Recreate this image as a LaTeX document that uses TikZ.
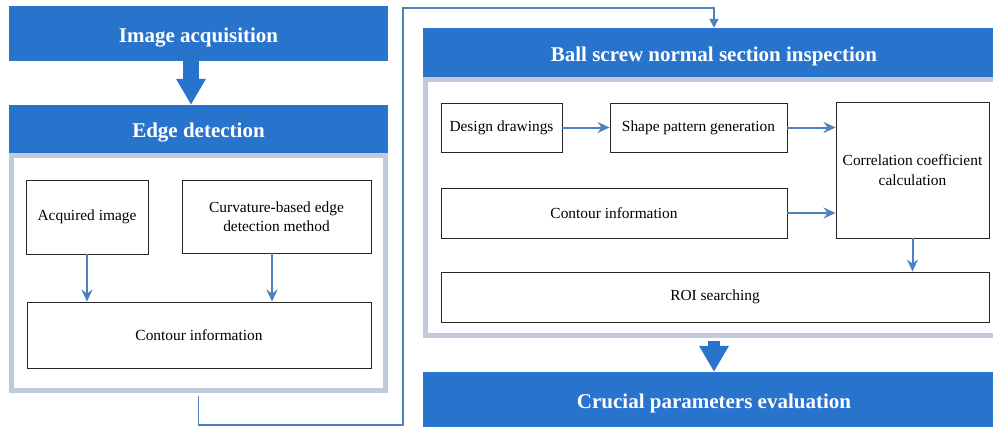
\documentclass[tikz,border=0pt]{standalone}
\usepackage{fontspec}
\setmainfont{Liberation Serif}
\usetikzlibrary{arrows.meta}
\definecolor{barblue}{HTML}{2874CC}
\definecolor{panelgray}{HTML}{BFCADB}
\definecolor{linkblue}{HTML}{4F81BD}
\begin{document}
\begin{tikzpicture}[x=1pt,y=-1pt,
  bar/.style={fill=barblue, draw=none, text=white, font=\bfseries\fontsize{21}{24}\selectfont, inner sep=0pt, text height=17pt, text depth=0pt},
  panel/.style={draw=panelgray, line width=5pt, fill=white, inner sep=0pt},
  box/.style={draw=black!85, line width=0.9pt, fill=white, font=\fontsize{15.4}{19.5}\selectfont, align=center, inner sep=2pt},
  flow/.style={draw=linkblue, line width=2pt, -{Stealth[length=12pt,width=11pt,inset=4pt]}},
  bigarrow/.style={draw=barblue, line width=#1, -{Triangle[length=26pt,width=28pt]}},
  link/.style={draw=linkblue, line width=1.6pt, -{Triangle[length=9pt,width=9pt]}}]
\useasboundingbox (0,0) rectangle (993,426);
\clip (0,0) rectangle (993,426);
\fill[white] (0,0) rectangle (993,426);

% left column
\node[bar, minimum width=379pt, minimum height=55pt] (bar1) at (198.5,33.5) {Image acquisition};
\node[bar, minimum width=379pt, minimum height=48pt] (bar2) at (198.5,129) {Edge detection};
\node[panel, minimum width=374pt, minimum height=235pt] (pL) at (198.5,273) {};
\node[box, minimum width=122pt, minimum height=74pt] (ai) at (87,217) {Acquired image};
\node[box, minimum width=189pt, minimum height=73pt] (cu) at (276.5,216.5) {Curvature-based edge\\detection method};
\node[box, minimum width=344pt, minimum height=66pt] (ci1) at (199,335) {Contour information};

% right column
\node[panel, minimum width=577pt, minimum height=256pt] (pR) at (714,207.5) {};
\node[bar, minimum width=582pt, minimum height=49pt] (bar3) at (714,52.5) {Ball screw normal section inspection};
\node[bar, minimum width=582pt, minimum height=56pt] (bar4) at (714,400) {Crucial parameters evaluation};
\node[box, minimum width=121pt, minimum height=49pt] (dd) at (501.5,127.5) {Design drawings};
\node[box, minimum width=177pt, minimum height=49pt] (sp) at (698.5,127.5) {Shape pattern generation};
\node[box, minimum width=153pt, minimum height=136pt] (cc) at (912.5,170) {Correlation coefficient\\calculation};
\node[box, minimum width=346pt, minimum height=50pt] (ci2) at (614,213) {Contour information};
\node[box, minimum width=548pt, minimum height=50pt] (roi) at (715,297) {ROI searching};

% big arrows
\coordinate (a1) at ([xshift=-7.5pt]bar1.south);
\draw[bigarrow=16pt] (a1) -- (a1 |- bar2.north);
\coordinate (a2) at ([yshift=-2.5pt]pR.south);
\draw[bigarrow=12pt] (a2) -- (a2 |- bar4.north);

% flow arrows left
\draw[flow] (ai.south) -- (ai.south |- ci1.north);
\coordinate (cuo) at ([xshift=-4.5pt]cu.south);
\draw[flow] (cuo) -- (cuo |- ci1.north);

% flow arrows right
\draw[flow] (dd.east) -- (sp.west);
\draw[flow] (sp.east) -- (sp.east -| cc.west);
\draw[flow] (ci2.east) -- (ci2.east -| cc.west);
\draw[flow] (cc.south) -- (cc.south |- roi.north);

% long connector
\coordinate (k1) at (403,425);
\coordinate (k2) at (403,8);
\draw[link] ([yshift=-2.5pt]pL.south) |- (k1) -- (k2) -| (bar3.north);
\end{tikzpicture}
\end{document}
